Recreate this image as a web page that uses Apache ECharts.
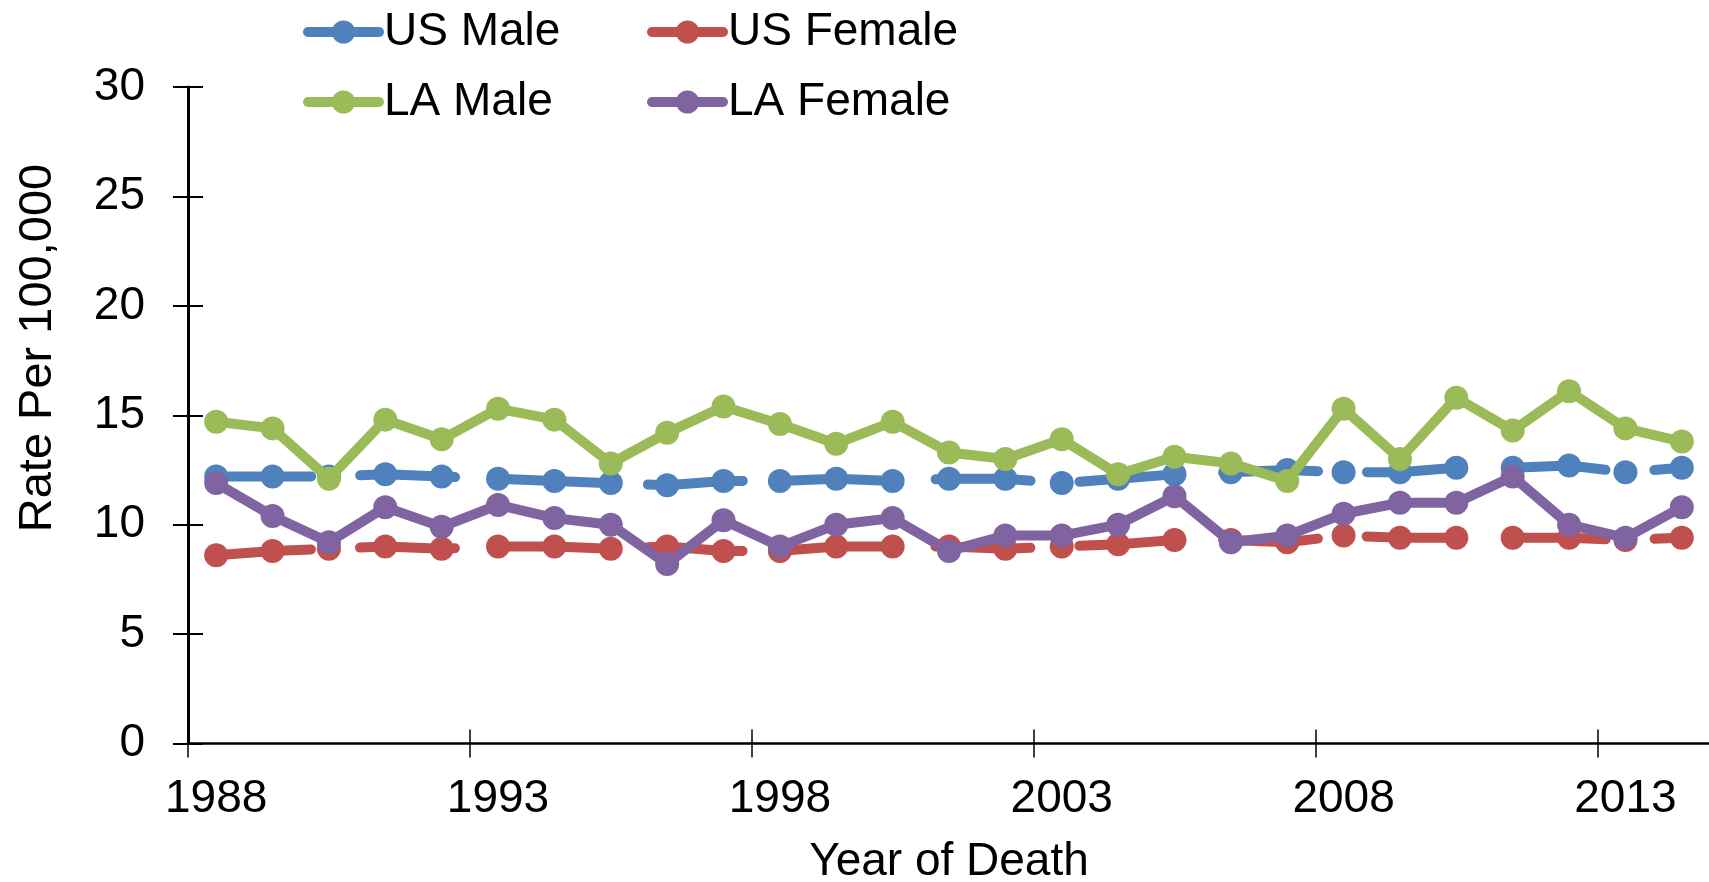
<!DOCTYPE html>
<html>
<head>
<meta charset="utf-8">
<script src="https://cdn.jsdelivr.net/npm/echarts@6/dist/echarts.min.js"></script>
<style>
html,body{margin:0;padding:0;background:#fff;}
#chart{width:1709px;height:882px;}
</style>
</head>
<body>
<div id="chart"></div>
<script>
var years = ['1988','1989','1990','1991','1992','1993','1994','1995','1996','1997','1998','1999','2000','2001','2002','2003','2004','2005','2006','2007','2008','2009','2010','2011','2012','2013','2014'];
var usMale   = [12.2,12.2,12.2,12.3,12.2,12.1,12.0,11.9,11.8,12.0,12.0,12.1,12.0,12.1,12.1,11.9,12.1,12.3,12.4,12.5,12.4,12.4,12.6,12.6,12.7,12.4,12.6];
var usFemale = [8.6,8.8,8.9,9.0,8.9,9.0,9.0,8.9,9.0,8.8,8.8,9.0,9.0,9.0,8.9,9.0,9.1,9.3,9.3,9.2,9.5,9.4,9.4,9.4,9.4,9.3,9.4];
var laMale   = [14.7,14.4,12.1,14.8,13.9,15.3,14.8,12.8,14.2,15.4,14.6,13.7,14.7,13.3,13.0,13.9,12.3,13.1,12.8,12.0,15.3,13.0,15.8,14.3,16.1,14.4,13.8];
var laFemale = [11.9,10.4,9.2,10.8,9.9,10.9,10.3,10.0,8.2,10.2,9.0,10.0,10.3,8.8,9.5,9.5,10.0,11.3,9.2,9.5,10.5,11.0,11.0,12.2,10.0,9.4,10.8];
var seriesNames = ['US Male','US Female','LA Male','LA Female'];
var seriesColors = ['#4F81BD','#C0504D','#9BBB59','#8064A2'];
var yTitle = 'Rate Per 100,000';
var xTitle = 'Year of Death';

var FONT = 'Liberation Sans, Arial, sans-serif';
var chart = echarts.init(document.getElementById('chart'), null, {renderer:'canvas'});

function mkSeries(i, data, dashed){
  return {
    name: seriesNames[i], type:'line', data:data, z: 2+i,
    symbol:'circle', symbolSize:24, showSymbol:true,
    itemStyle:{color:seriesColors[i]},
    lineStyle:{color:seriesColors[i], width:10, cap:'round', join:'round', type: dashed ? [95,49] : 'solid'},
    emphasis:{disabled:true}, animation:false
  };
}
function mkLegend(i, left, top){
  return {
    data:[seriesNames[i]], left:left, top:top, padding:0, itemWidth:71, itemHeight:29,
    textStyle:{fontFamily:FONT, fontSize:46, color:'#000'},
    lineStyle:{type:'solid', width:10, cap:'round'},
    selectedMode:false
  };
}
var option = {
  backgroundColor:'#fff',
  animation:false,
  legend:[mkLegend(0,303,9), mkLegend(1,647,9), mkLegend(2,303,79), mkLegend(3,647,79)],
  grid:{left:188, right:-1, top:87, bottom:138.5, containLabel:false, outerBoundsMode:'none'},
  xAxis:[{
    type:'category', data:years, boundaryGap:true,
    axisLine:{lineStyle:{color:'#000', width:2.5}},
    axisTick:{show:true, interval:4, length:14, inside:false, lineStyle:{color:'#000', width:1.5}},
    axisLabel:{interval:4, margin:33, fontFamily:FONT, fontSize:46, color:'#000'},
    name:xTitle, nameLocation:'middle', nameGap:96,
    nameTextStyle:{fontFamily:FONT, fontSize:46, color:'#000'},
    splitLine:{show:false}
  },{
    type:'category', data:years, boundaryGap:true, position:'bottom',
    axisLine:{show:false},
    axisTick:{show:true, interval:4, length:14, inside:true, lineStyle:{color:'#000', width:1.5}},
    axisLabel:{show:false}, splitLine:{show:false}
  }],
  yAxis:[{
    type:'value', min:0, max:30, interval:5,
    axisLine:{show:true, lineStyle:{color:'#000', width:3}},
    axisTick:{show:true, length:15, inside:false, lineStyle:{color:'#000', width:2}},
    axisLabel:{margin:43, fontFamily:FONT, fontSize:46, color:'#000'},
    splitLine:{show:false}
  },{
    type:'value', min:0, max:30, interval:5, position:'left',
    axisLine:{show:false},
    axisTick:{show:true, length:15, inside:true, lineStyle:{color:'#000', width:2}},
    axisLabel:{show:false}, splitLine:{show:false}
  }],
  graphic:[{
    type:'text', x:38, y:348, rotation:Math.PI/2,
    style:{text:yTitle, fontFamily:FONT, fontSize:47, fill:'#000', align:'center', verticalAlign:'middle'}
  }],
  series:[
    mkSeries(0, usMale, true),
    mkSeries(1, usFemale, true),
    mkSeries(2, laMale, false),
    mkSeries(3, laFemale, false)
  ]
};
chart.setOption(option);
</script>
</body>
</html>
